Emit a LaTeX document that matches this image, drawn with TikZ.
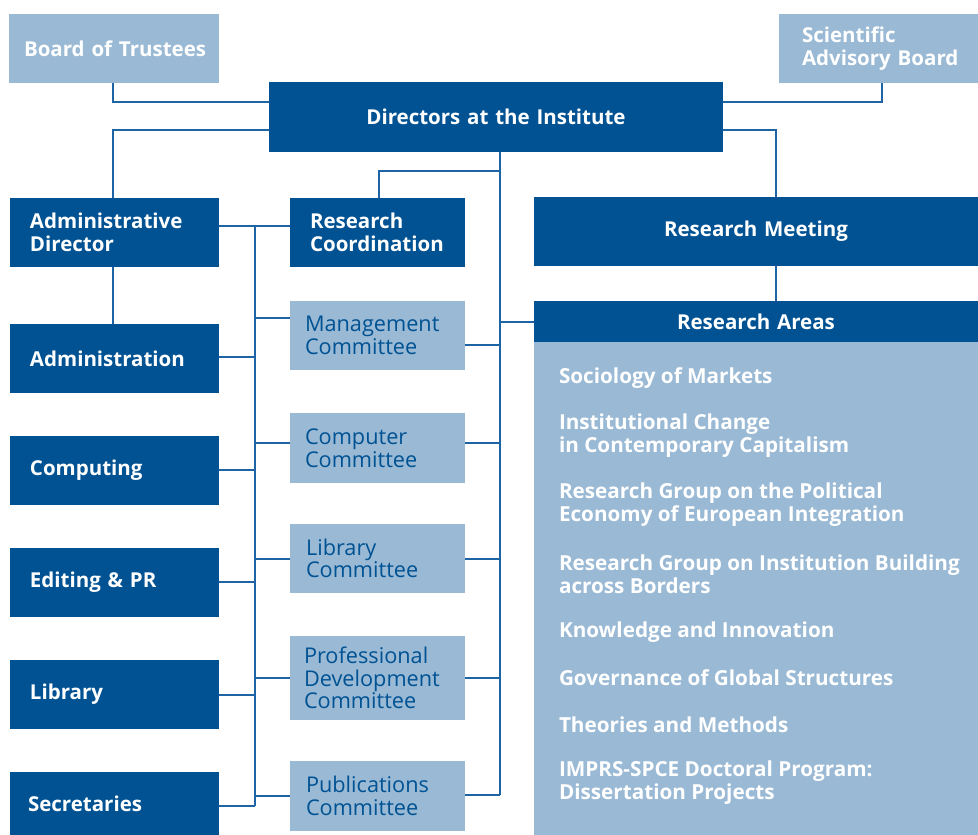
\documentclass[tikz,border=0pt]{standalone}
\usepackage{fontspec}
\setmainfont{Open Sans}
\definecolor{dkblue}{RGB}{0,82,147}
\definecolor{ltblue}{RGB}{153,185,213}
\definecolor{lnblue}{RGB}{30,100,165}
\begin{document}
\begin{tikzpicture}[x=1pt,y=-1pt,
  every node/.style={inner ysep=0pt, outer sep=0pt},
  boxbase/.style={anchor=north west, align=left, font=\fontsize{20.5}{23.5}\selectfont\bfseries, minimum height=69pt},
  dkbox/.style={boxbase, fill=dkblue, text=white},
  ltbox/.style={boxbase, fill=ltblue, text=white},
  combox/.style={boxbase, fill=ltblue, text=dkblue, font=\fontsize{21.7}{22.5}\selectfont},
  areaitem/.style={anchor=west, align=left, text=white, font=\fontsize{20.7}{23}\selectfont\bfseries, inner xsep=0pt},
  conn/.style={draw=lnblue, line width=1.6pt}
]
\useasboundingbox (0,0) rectangle (978,835);
% top row
\node[ltbox, inner xsep=15pt, text width=180pt] (bot) at (9,14) {\mbox{Board of Trustees}};
\node[ltbox, inner xsep=23pt, text width=153pt] (sab) at (779,14) {Scientific\\\mbox{Advisory Board}};
\node[dkbox, inner xsep=0pt, text width=454pt, align=center, minimum height=70pt] (dir) at (269,82) {Directors at the Institute};
% left column
\node[dkbox, inner xsep=20pt, text width=169pt] (ad) at (10,198) {Administrative\\Director};
\node[dkbox, inner xsep=20pt, text width=169pt] (adm) at (10,324) {Administration};
\node[dkbox, inner xsep=20pt, text width=169pt] (cmp) at (10,436) {Computing};
\node[dkbox, inner xsep=20pt, text width=169pt] (ed) at (10,548) {Editing \& PR};
\node[dkbox, inner xsep=20pt, text width=169pt] (lib) at (10,660) {Library};
\node[dkbox, inner xsep=18pt, text width=173pt, minimum height=63pt] (sec) at (10,772) {Secretaries};
% middle column
\node[dkbox, inner xsep=20pt, text width=135pt] (rc) at (290,198) {Research\\Coordination};
\node[combox, inner xsep=15pt, text width=145pt] (mc) at (290,301) {Management\\Committee};
\node[combox, inner xsep=15pt, text width=145pt, minimum height=70pt] (cc) at (290,413) {Computer\\Committee};
\node[combox, inner xsep=16pt, text width=143pt] (lc) at (290,524) {Library\\Committee};
\node[combox, inner xsep=14pt, text width=147pt, minimum height=84pt] (pdc) at (290,636) {Professional\\Development\\Committee};
\node[combox, inner xsep=16pt, text width=143pt, minimum height=70pt] (pc) at (290,761) {Publications\\Committee};
% right column
\node[dkbox, inner xsep=0pt, text width=444pt, align=center] (rm) at (534,197) {Research Meeting};
\node[dkbox, inner xsep=0pt, text width=444pt, align=center, minimum height=41pt] (ra) at (534,301) {Research Areas};
\node[fill=ltblue, anchor=north west, minimum width=444pt, minimum height=493pt, inner sep=0pt] (rab) at (534,342) {};
\node[areaitem] (i1) at (559,378) {Sociology of Markets};
\node[areaitem] (i2) at (559,436) {Institutional Change\\in Contemporary Capitalism};
\node[areaitem] (i3) at (559,505) {Research Group on the Political\\Economy of European Integration};
\node[areaitem] (i4) at (559,574) {Research Group on Institution Building\\across Borders};
\node[areaitem] (i5) at (559,632) {Knowledge and Innovation};
\node[areaitem] (i6) at (559,678) {Governance of Global Structures};
\node[areaitem] (i7) at (559,725) {Theories and Methods};
\node[areaitem] (i8) at (559,783) {IMPRS-SPCE Doctoral Program:\\Dissertation Projects};
% connectors
\draw[conn] (bot.south -| 113,0) |- (dir.west |- 0,102);
\draw[conn] (sab.south -| 882,0) |- (dir.east |- 0,102);
\draw[conn] (dir.west |- 0,130) -| (ad.north -| 113,0);
\draw[conn] (dir.east |- 0,130) -| (rm.north -| 776,0);
\draw[conn] (ad.south -| 113,0) -- (adm.north -| 113,0);
\draw[conn] (rm.south -| 776,0) -- (ra.north -| 776,0);
% right spine
\coordinate (rs) at (500,795);
\draw[conn] (dir.south -| rs) -- (rs);
\draw[conn] (rc.north -| 379,0) |- (500,171);
\draw[conn] (ra.west |- 0,322) -- (500,322);
\draw[conn] (mc.east |- 0,345) -- (500,345);
\draw[conn] (cc.east |- 0,443) -- (500,443);
\draw[conn] (lc.east |- 0,559) -- (500,559);
\draw[conn] (pdc.east |- 0,678) -- (500,678);
\draw[conn] (pc.east |- rs) -- (rs);
% left spine
\coordinate (ls) at (255,806);
\draw[conn] (ad.east |- 0,226) -- (rc.west |- 0,226);
\draw[conn] (255,226) -- (ls);
\draw[conn] (adm.east |- 0,357) -- (255,357);
\draw[conn] (cmp.east |- 0,470) -- (255,470);
\draw[conn] (ed.east |- 0,582) -- (255,582);
\draw[conn] (lib.east |- 0,695) -- (255,695);
\draw[conn] (sec.east |- ls) -- (ls);
\draw[conn] (255,318) -- (mc.west |- 0,318);
\draw[conn] (255,443) -- (cc.west |- 0,443);
\draw[conn] (255,559) -- (lc.west |- 0,559);
\draw[conn] (255,678) -- (pdc.west |- 0,678);
\draw[conn] (255,796) -- (pc.west |- 0,796);
\end{tikzpicture}
\end{document}
